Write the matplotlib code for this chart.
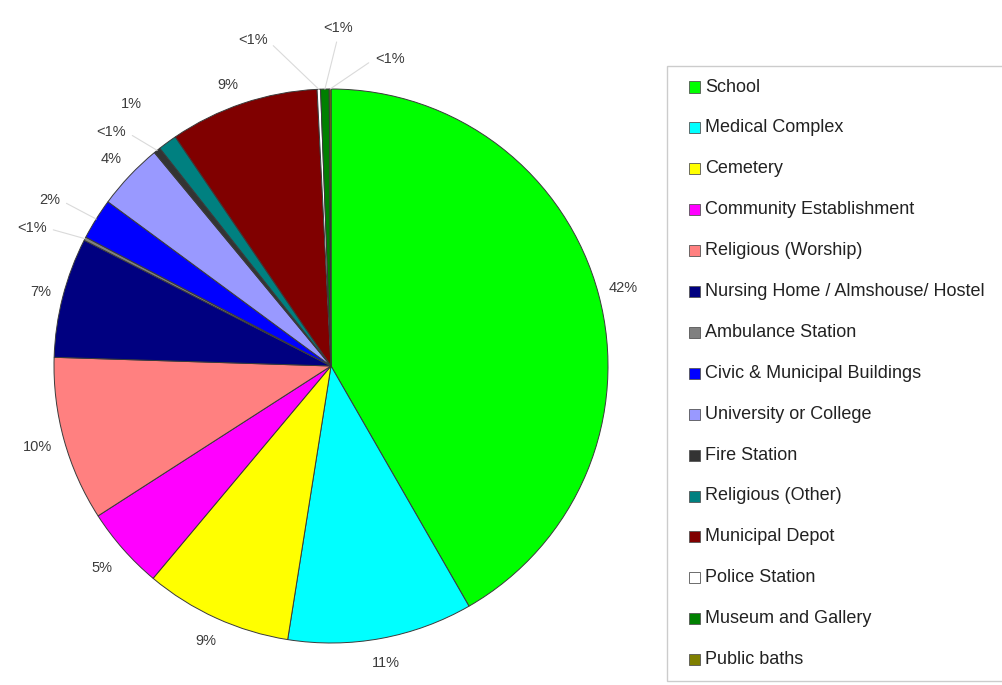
import numpy as np
import matplotlib
matplotlib.use("Agg")
import matplotlib.pyplot as plt
from matplotlib.patches import Rectangle

plt.rcParams['font.family'] = ['Liberation Sans', 'DejaVu Sans']

# Share of buildings by use (percent), clockwise from 12 o'clock
categories = [
    'School', 'Medical Complex', 'Cemetery', 'Community Establishment',
    'Religious (Worship)', 'Nursing Home / Almshouse/ Hostel', 'Ambulance Station',
    'Civic & Municipal Buildings', 'University or College', 'Fire Station',
    'Religious (Other)', 'Municipal Depot', 'Police Station',
    'Museum and Gallery', 'Public baths',
]
shares = [41.7, 10.8, 8.6, 4.8, 9.6, 7.0, 0.2, 2.4, 3.9, 0.4, 1.1, 8.7, 0.2, 0.5, 0.1]
colors = [
    '#00ff00', '#00ffff', '#ffff00', '#ff00ff', '#ff8080', '#000080', '#808080',
    '#0000ff', '#9999ff', '#333333', '#008080', '#800000', '#ffffff',
    '#008000', '#808000',
]

# label placement: angular shift (deg, clockwise) and radius for each slice label
label_shift = [0, 0, 0, 0, 0, 0, -2.6, -1.5, 0, -4.3, -1.2, -1.7, -11, 2.5, 11]
label_radius = [1.09, 1.09, 1.09, 1.10, 1.10, 1.08, 1.19, 1.18, 1.09, 1.16, 1.19,
                1.08, 1.21, 1.22, 1.13]
# which labels carry a leader line, and where it leaves the text
leader_relpos = {6: (1, 0.5), 7: (1, 0.5), 9: (1, 0.5),
                 12: (1, 0.5), 13: (0.5, 0), 14: (0, 0.5)}

W, H = 1002, 685
R_PX = 277
CX, CY = 331, H - 366

fig = plt.figure(figsize=(W / 100, H / 100), dpi=100)
ax = fig.add_axes([0, 0, 1, 1])

wedges, _ = ax.pie(shares, colors=colors, startangle=90, counterclock=False,
                   radius=1.0, wedgeprops=dict(edgecolor='#3a3a3a', linewidth=0.7))
ax.set_aspect('auto')
ax.set_xlim(-CX / R_PX, (W - CX) / R_PX)
ax.set_ylim(-CY / R_PX, (H - CY) / R_PX)
ax.axis('off')

total = sum(shares)
start = 0.0
for i, v in enumerate(shares):
    pct = v / total * 100
    mid = start + v / total * 180.0
    start += v / total * 360.0
    text = '<1%' if pct < 1 else f'{pct:.0f}%'
    a = np.deg2rad(90 - (mid + label_shift[i]))
    r = label_radius[i]
    lx, ly = r * np.cos(a), r * np.sin(a)
    m = np.deg2rad(90 - mid)
    if i in leader_relpos:
        ax.annotate(text, xy=(np.cos(m), np.sin(m)), xytext=(lx, ly),
                    ha='center', va='center', fontsize=10.5, color='#3c3c3c',
                    arrowprops=dict(arrowstyle='-', color='#dadada', lw=0.8,
                                    relpos=leader_relpos[i], shrinkA=3, shrinkB=0))
    else:
        ax.text(lx, ly, text, ha='center', va='center', fontsize=10.5, color='#3c3c3c')

# legend panel drawn on the right
fig.patches.append(Rectangle((667 / W, 1 - 681 / H), (W + 10 - 667) / W, (681 - 66) / H,
                             transform=fig.transFigure, facecolor='white',
                             edgecolor='#cccccc', linewidth=1.0))
for i, (name, c) in enumerate(zip(categories, colors)):
    yc = 87 + i * 40.9
    fig.patches.append(Rectangle((689 / W, 1 - (yc + 5.5) / H), 11 / W, 11 / H,
                                 transform=fig.transFigure, facecolor=c,
                                 edgecolor='#555555', linewidth=0.6))
    fig.text(705 / W, 1 - yc / H, name, ha='left', va='center',
             fontsize=13, color='#222222')

fig.savefig('out.png', dpi=100, facecolor='white')
